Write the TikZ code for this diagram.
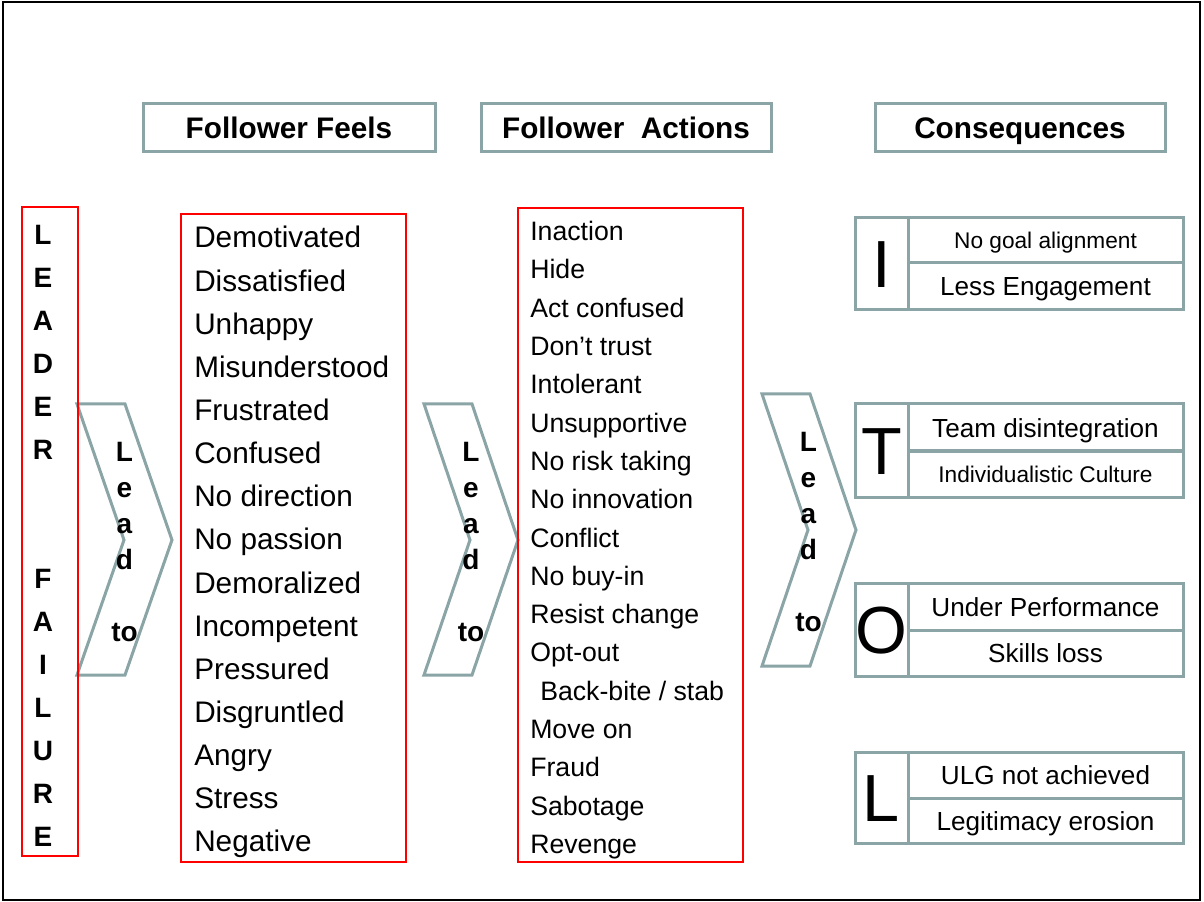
\documentclass[tikz,border=0pt]{standalone}
\usepackage{fontspec}
\setmainfont{Liberation Sans}
\usetikzlibrary{fit}
\definecolor{tealgray}{RGB}{139,165,167}
\newcommand\setfs[1]{\fontsize{#1}{#1}\selectfont}
\begin{document}
\begin{tikzpicture}[x=0.75pt,y=-0.75pt,
  tbox/.style={draw=tealgray,line width=2.25pt,inner sep=0pt},
  rbox/.style={draw=red,line width=1.5pt,inner sep=0pt},
  chev/.style={draw=tealgray,line width=2.25pt,line join=miter},
  hdrtxt/.style={inner sep=0pt,anchor=base,font=\setfs{22.3pt}\bfseries},
  feeltxt/.style={inner sep=0pt,anchor=base west,font=\setfs{22.3pt}},
  acttxt/.style={inner sep=0pt,anchor=base west,font=\setfs{20pt}},
  bigl/.style={inner sep=0pt,anchor=base,font=\setfs{50pt}},
  ctxt/.style={inner sep=0pt,anchor=base,font=\setfs{19.6pt}},
  csmall/.style={inner sep=0pt,anchor=base,font=\setfs{17pt}},
  lettxt/.style={inner sep=0pt,anchor=base,font=\setfs{21pt}\bfseries},
]
\useasboundingbox (0,0) rectangle (1204,902);
\node[draw=black,line width=2pt,inner sep=0pt,fit={(3,2) (1200,900)}] (frame) {};

% headers
\node[tbox,fit={(143,104) (435,152)}] (h1) {};
\node[tbox,fit={(481,104) (771,152)}] (h2) {};
\node[tbox,fit={(875,104) (1165,152)}] (h3) {};
\node[hdrtxt] (h1t) at (289,138.7) {Follower Feels};
\node[hdrtxt] (h2t) at (626,138.7) {Follower\ \ Actions};
\node[hdrtxt] (h3t) at (1020,138.7) {Consequences};

% chevrons
\draw[chev] (77,404) -- (125,404) -- (172,540) -- (125,675) -- (77,675) -- (124,540) -- cycle;
\draw[chev] (424,404) -- (472,404) -- (518,540) -- (472,675) -- (424,675) -- (470,540) -- cycle;
\draw[chev] (762,394) -- (810,394) -- (856,530) -- (810,666) -- (762,666) -- (808,530) -- cycle;
\foreach \t [count=\i from 0] in {L,e,a,d,{},to} {
  \node[lettxt] (ca\i) at (124.5,{461+36*\i}) {\t};
  \node[lettxt] (cb\i) at (471,{461+36*\i}) {\t};
  \node[lettxt] (cc\i) at (808.5,{451+36*\i}) {\t};
}

% red boxes
\node[rbox,fit={(22,207) (78,856)}] (lf) {};
\node[rbox,fit={(181,214) (406,862)}] (feels) {};
\node[rbox,fit={(518,208) (743,862)}] (acts) {};

\foreach \t [count=\i from 0] in {L,E,A,D,E,R,{},{},F,A,I,L,U,R,E} {
  \node[lettxt] (lf\i) at (43,{245+42.93*\i}) {\t};
}

\foreach \t [count=\i from 0] in {Demotivated,Dissatisfied,Unhappy,Misunderstood,Frustrated,Confused,No direction,No passion,Demoralized,Incompetent,Pressured,Disgruntled,Angry,Stress,Negative} {
  \node[feeltxt] (f\i) at (194,{248+43.14*\i}) {\t};
}

\foreach \t [count=\i from 0] in {Inaction,Hide,Act confused,Don’t trust,Intolerant,Unsupportive,No risk taking,No innovation,Conflict,No buy-in,Resist change,Opt-out,{\hspace*{7.5pt}Back-bite / stab},Move on,Fraud,Sabotage,Revenge} {
  \node[acttxt] (a\i) at (530,{240.6+38.3*\i}) {\t};
}

% consequence boxes
\foreach \n/\top/\mid/\bot in {I/218/263/310,T/404/451/497,O/583/630/676,L/752/798/843} {
  \node[tbox,fit={(855,\top) (908,\bot)}] (k\n) {};
  \node[tbox,fit={(908,\top) (1183,\mid)}] (u\n) {};
  \node[tbox,fit={(908,\mid) (1183,\bot)}] (d\n) {};
}
\node[bigl] (lI) at (881.5,288) {I};
\node[bigl] (lT) at (881.5,474.5) {T};
\node[bigl] (lO) at (881.5,653.5) {O};
\node[bigl] (lL) at (881.5,821.5) {L};

\node[csmall] (tI1) at (1045.5,248.6) {No goal alignment};
\node[ctxt] (tI2) at (1045.5,296) {Less Engagement};
\node[ctxt] (tT1) at (1045.5,437) {Team disintegration};
\node[csmall] (tT2) at (1045.5,482) {Individualistic Culture};
\node[ctxt] (tO1) at (1045.5,616) {Under Performance};
\node[ctxt] (tO2) at (1045.5,662.4) {Skills loss};
\node[ctxt] (tL1) at (1045.5,784.4) {ULG not achieved};
\node[ctxt] (tL2) at (1045.5,830) {Legitimacy erosion};
\end{tikzpicture}
\end{document}
